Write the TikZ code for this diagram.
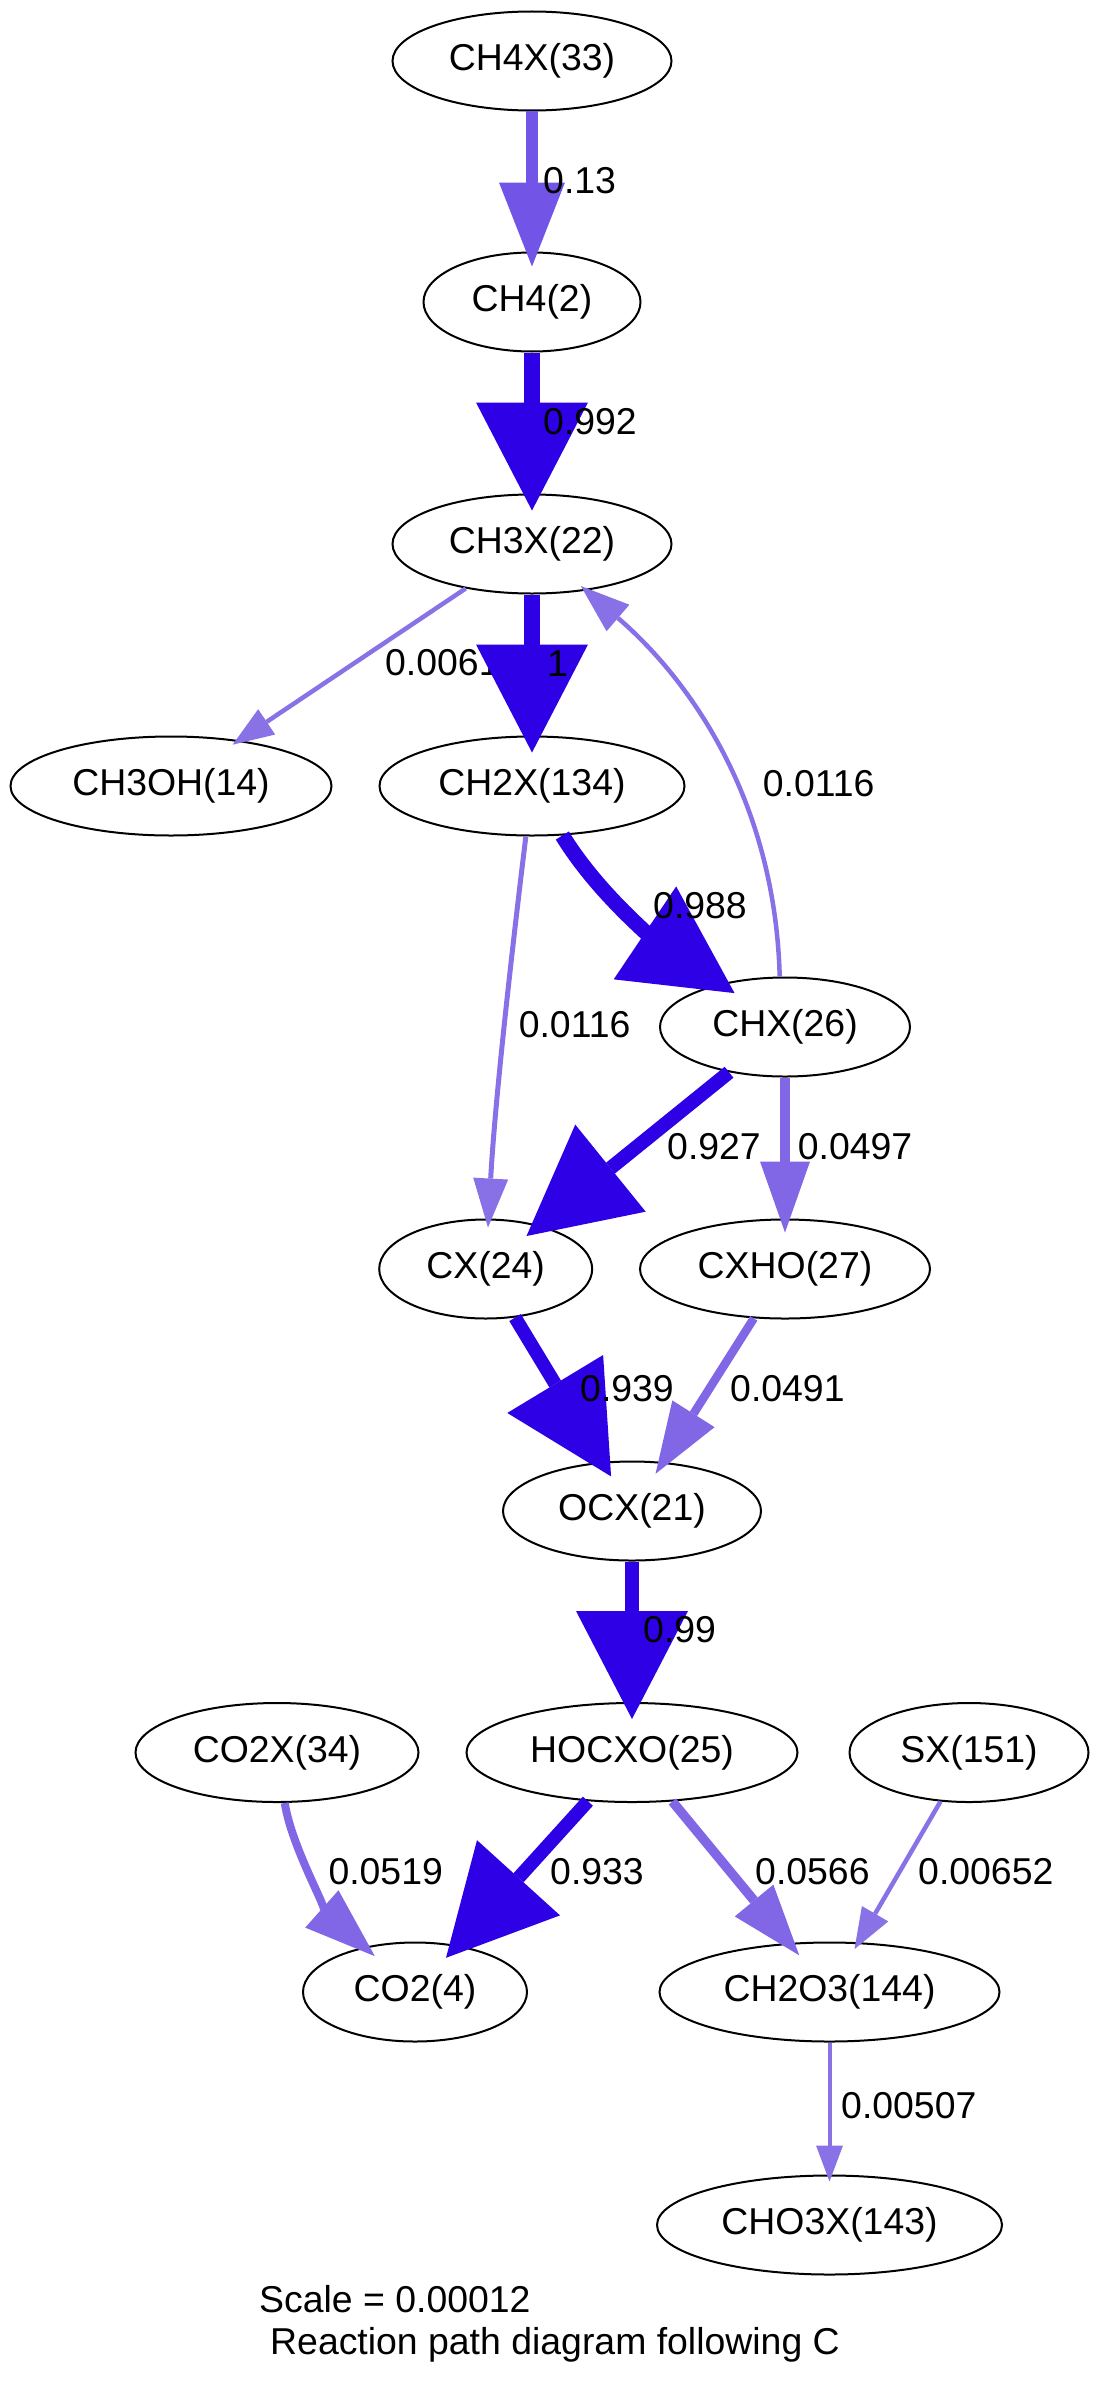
\documentclass[tikz,border=0pt]{standalone}
\usepackage{fontspec}
\setmainfont{Liberation Sans}
\usetikzlibrary{arrows.meta,shapes.geometric}
\definecolor{cmax}{RGB}{46,0,230}
\definecolor{cA}{RGB}{114,85,230}
\definecolor{cB}{RGB}{129,103,230}
\definecolor{cC}{RGB}{136,112,230}
\definecolor{cD}{RGB}{137,113,230}
\begin{document}
\begin{tikzpicture}[x=1pt,y=-1pt,
  sp/.style={ellipse,draw,line width=2pt,inner sep=0pt,minimum height=99pt,font=\fontsize{37.4}{44}\selectfont},
  lab/.style={anchor=base west,inner sep=0pt,font=\fontsize{37.4}{44}\selectfont},
  edgeA/.style={draw=cA,line width=12.3pt,-{Triangle[length=84pt,width=66pt,line width=0pt]},shorten >=-15pt},
  heavy/.style={draw=cmax,line width=15pt,-{Triangle[length=108pt,width=112pt,line width=0pt]},shorten >=-17pt},
  med/.style={draw=cB,line width=9.5pt,-{Triangle[length=71pt,width=50pt,line width=0pt]},shorten >=-14pt},
  light/.style={draw=cC,line width=4.5pt,-{Triangle[length=49pt,width=35pt,line width=0pt]},shorten >=-8pt},
  lightS/.style={draw=cD,line width=4.5pt,-{Triangle[length=41pt,width=30.5pt,line width=0pt]},shorten >=-8pt},
  lightT/.style={draw=cD,line width=4pt,-{Triangle[length=36pt,width=27pt,line width=0pt]},shorten >=-7pt}
]
\useasboundingbox (0,0) rectangle (1099,2403);
% nodes
\node[sp,minimum width=279pt] (ch4x) at (532,61) {CH4X(33)};
\node[sp,minimum width=217pt] (ch4) at (532,302) {CH4(2)};
\node[sp,minimum width=279pt] (ch3x) at (532,544) {CH3X(22)};
\node[sp,minimum width=321pt] (ch3oh) at (171,786) {CH3OH(14)};
\node[sp,minimum width=305pt] (ch2x) at (532,786) {CH2X(134)};
\node[sp,minimum width=250pt] (chx) at (785,1027) {CHX(26)};
\node[sp,minimum width=213pt] (cx) at (485.7,1269) {CX(24)};
\node[sp,minimum width=290pt] (cxho) at (785,1269) {CXHO(27)};
\node[sp,minimum width=258pt] (ocx) at (632,1511) {OCX(21)};
\node[sp,minimum width=283pt] (co2x) at (277,1752.5) {CO2X(34)};
\node[sp,minimum width=331pt] (hocxo) at (632,1752.5) {HOCXO(25)};
\node[sp,minimum width=239pt] (sx) at (969,1752.5) {SX(151)};
\node[sp,minimum width=224pt] (co2) at (415,1992) {CO2(4)};
\node[sp,minimum width=340pt] (ch2o3) at (829.5,1992) {CH2O3(144)};
\node[sp,minimum width=345pt] (cho3x) at (829.5,2225) {CHO3X(143)};
% edges with labels
\draw[edgeA] (ch4x) -- (ch4);
\node[lab] (l1) at (543,193) {0.13};
\draw[heavy,line width=15.5pt] (ch4) -- (ch3x);
\node[lab] (l2) at (543,434) {0.992};
\draw[lightS] (ch3x) -- (ch3oh);
\node[lab] (l3) at (385,675.5) {0.0061};
\draw[heavy,line width=16pt] (ch3x) -- (ch2x);
\node[lab] (l4) at (547,676) {1};
\draw[light,shorten >=-7pt] (chx.96) .. controls (775,800) and (690,680) .. (ch3x);
\node[lab] (l5) at (762.6,796) {0.0116};
\draw[heavy,line width=15.4pt] (ch2x) .. controls (600,897) and (660,943) .. (chx);
\node[lab] (l6) at (653,918) {0.988};
\draw[light,line width=5pt,shorten >=-9pt] (ch2x) .. controls (512,950) and (495,1100) .. (cx);
\node[lab] (l7) at (518.6,1037) {0.0116};
\draw[heavy,line width=14pt] (chx) -- (cx);
\node[lab] (l8) at (667,1159) {0.927};
\draw[med,line width=10.3pt] (chx) -- (cxho);
\node[lab] (l9) at (797.7,1159) {0.0497};
\draw[heavy,line width=13.5pt] (cx) -- (ocx);
\node[lab] (l10) at (580,1401) {0.939};
\draw[med,line width=8.5pt] (cxho) -- (ocx);
\node[lab] (l11) at (730,1401) {0.0491};
\draw[heavy,line width=14pt] (ocx) -- (hocxo);
\node[lab] (l12) at (643,1642.5) {0.99};
\draw[med,line width=8pt,shorten >=-14pt] (co2x) .. controls (292,1850) and (333.5,1919.3) .. (co2);
\node[lab] (l13) at (328.3,1884.7) {0.0519};
\draw[heavy,line width=13.5pt] (hocxo) -- (co2);
\node[lab] (l14) at (550,1884.7) {0.933};
\draw[med,line width=9.5pt,shorten >=-16pt] (hocxo) -- (ch2o3);
\node[lab] (l15) at (755,1884.7) {0.0566};
\draw[lightS] (sx) -- (ch2o3);
\node[lab] (l16) at (918,1884.7) {0.00652};
\draw[lightT] (ch2o3) -- (cho3x);
\node[lab] (l17) at (841,2118) {0.00507};
% caption
\node[lab] (t1) at (259,2312) {Scale = 0.00012};
\node[lab] (t2) at (270,2354) {Reaction path diagram following C};
\end{tikzpicture}
\end{document}
